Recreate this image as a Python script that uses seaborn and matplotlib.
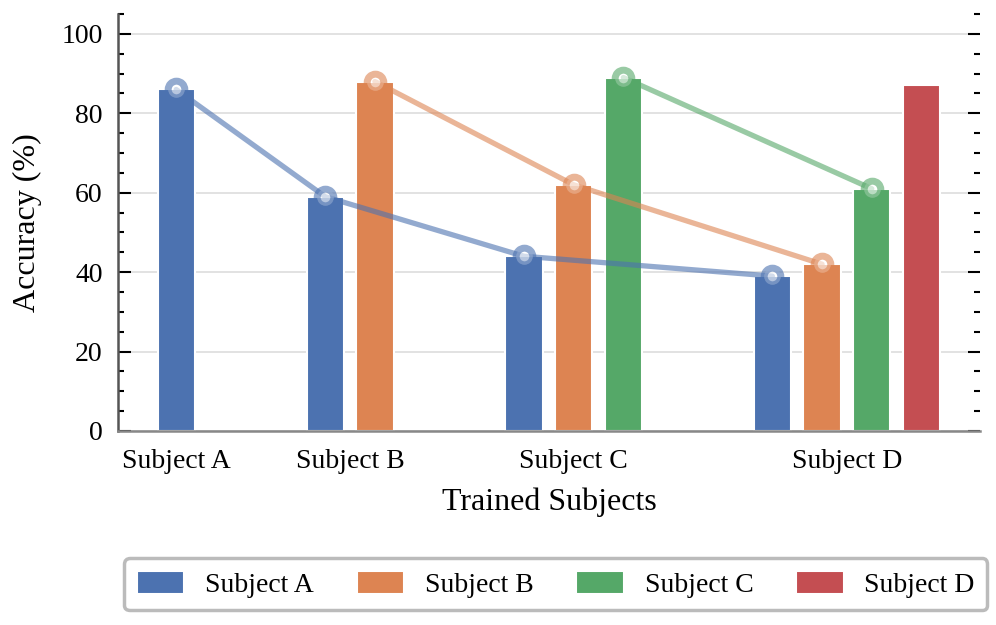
import numpy as np
import pandas as pd
import matplotlib
matplotlib.use("Agg")
import matplotlib.pyplot as plt
import seaborn as sns

sns.set_theme(style="white", palette="deep")
plt.rcParams["font.family"] = ["Liberation Serif", "DejaVu Serif"]
plt.rcParams["text.color"] = "black"
plt.rcParams["axes.labelcolor"] = "black"
plt.rcParams["xtick.color"] = "black"
plt.rcParams["ytick.color"] = "black"

# bar positions on the x axis (groups spaced with gaps)
subjects = ["Subject A", "Subject B", "Subject C", "Subject D"]
group_labels = ["Subject A", "Subject B", "Subject C", "Subject D"]
group_centers = [0, 3.5, 8, 13.5]

pos_a = [0, 3, 7, 12]
acc_a = [86, 59, 44, 39]
pos_b = [4, 8, 13]
acc_b = [88, 62, 42]
pos_c = [9, 14]
acc_c = [89, 61]
pos_d = [15]
acc_d = [87]

positions = [pos_a, pos_b, pos_c, pos_d]
accuracies = [acc_a, acc_b, acc_c, acc_d]

df = pd.concat(
    [pd.DataFrame({"pos": p, "acc": a, "model": s})
     for p, a, s in zip(positions, accuracies, subjects)],
    ignore_index=True,
)

colors = sns.color_palette("deep", 4)

fig = plt.figure(figsize=(9.96, 6.25), dpi=100)
ax = fig.add_axes([0.1185, 0.3104, 0.8655, 0.6672])

sns.barplot(
    data=df, x="pos", y="acc", hue="model", hue_order=subjects,
    native_scale=True, dodge=False, width=0.75, palette=colors,
    edgecolor="white", linewidth=1.5, saturation=1, ax=ax, legend=True,
    zorder=2,
)

# decay lines for the subjects tested on later ones
for p, a, c in zip(positions, accuracies, colors):
    if len(p) < 2:
        continue
    ax.plot(p, a, color=c, lw=3.8, alpha=0.6, marker="o", ms=12,
            mfc="white", mec=c, mew=5, zorder=3)

ax.set_xlim(-1.17, 16.18)
ax.set_ylim(0, 105)
ax.set_yticks(np.arange(0, 101, 20))
ax.set_yticks(np.arange(0, 106, 5), minor=True)
ax.set_xticks(group_centers)
ax.set_xticklabels(group_labels)
ax.grid(axis="y", color="#dddddd", lw=1.2, zorder=0)
ax.set_axisbelow(True)

ax.set_xlabel("Trained Subjects", fontsize=23, labelpad=10)
ax.set_ylabel("Accuracy (%)", fontsize=23, labelpad=14)

ax.tick_params(axis="x", length=0, labelsize=20, pad=13)
ax.tick_params(axis="y", which="both", direction="in", left=True, right=True,
               labelsize=20, width=1.5, pad=11)
ax.tick_params(axis="y", which="major", length=9)
ax.tick_params(axis="y", which="minor", length=4.5)

for side in ["top", "right"]:
    ax.spines[side].set_visible(False)
ax.spines["left"].set_color("#555555")
ax.spines["left"].set_linewidth(1.8)
ax.spines["bottom"].set_color("#888888")
ax.spines["bottom"].set_linewidth(1.8)

handles, labels = ax.get_legend_handles_labels()
ax.get_legend().remove()
leg = fig.legend(
    handles, labels, loc="center", bbox_to_anchor=(0.558, 0.065), ncol=4,
    fontsize=20, frameon=True, fancybox=True, handlelength=1.7,
    handleheight=0.9, handletextpad=0.75, columnspacing=1.55,
    borderpad=0.45,
)
leg.get_frame().set_edgecolor("#aaaaaa")
leg.get_frame().set_linewidth(2.5)

fig.savefig("out.png", dpi=100)
